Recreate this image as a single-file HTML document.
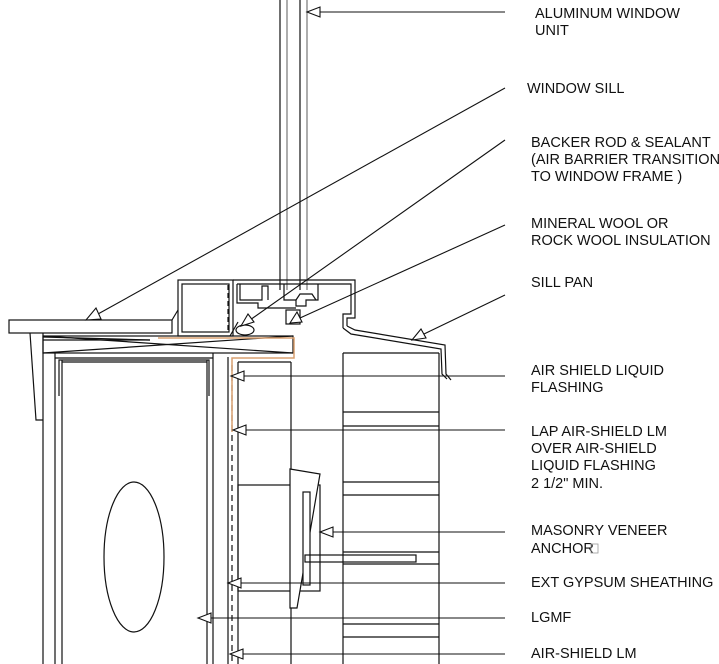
<!DOCTYPE html>
<html><head><style>
html,body{margin:0;padding:0;background:#fff;}
svg{display:block;}
text{font-family:"Liberation Sans",Arial,sans-serif;font-size:14.5px;fill:#111;}
</style></head><body>
<svg width="719" height="664" viewBox="0 0 719 664" xmlns="http://www.w3.org/2000/svg">
<g fill="none" stroke="#111" stroke-width="1.2">
<line x1="280" y1="0" x2="280" y2="290"/>
<line x1="287" y1="0" x2="287" y2="290" stroke="#777"/>
<line x1="300" y1="0" x2="300" y2="290"/>
<line x1="307" y1="0" x2="307" y2="290" stroke="#777"/>
<rect x="178" y="280" width="55" height="56"/>
<rect x="182" y="284" width="47" height="48"/>
<line x1="228" y1="285" x2="228" y2="332" stroke-dasharray="5,3"/>
<polyline points="233,280 355,280 355,318 347,318 347,326"/>
<polyline points="237,284 351,284 351,314 343,314 343,328"/>
<polyline points="237,284 237,303 258,303 258,308 296,308"/>
<polyline points="240,284 240,300 262,300 262,286 268,286 268,300"/>
<polyline points="284,284 284,300 296,300 296,306 306,306 306,300 318,300 318,284"/>
<rect x="286" y="310" width="14" height="14"/>
<polyline points="296,300 300,294 312,294 316,300"/>
<ellipse cx="245" cy="330" rx="9" ry="5"/>
<line x1="230" y1="336" x2="238" y2="322"/>
<polyline points="347,326 355,330 445,345 446,374 451,380"/>
<polyline points="343,328 351,334 441,349 442,374 447,379"/>
<rect x="9" y="320" width="163" height="13"/>
<line x1="172" y1="320" x2="178" y2="310"/>
<rect x="43" y="336" width="250" height="17"/>
<line x1="43" y1="340" x2="150" y2="340"/>
<line x1="43" y1="336" x2="293" y2="353"/>
<line x1="43" y1="353" x2="293" y2="336"/>
<line x1="43" y1="337" x2="150" y2="340"/>
<polyline points="30,333 36,420 43,420"/>
<line x1="43" y1="333" x2="43" y2="664"/>
<line x1="55" y1="353" x2="55" y2="664"/>
<line x1="62" y1="360" x2="62" y2="664"/>
<line x1="207" y1="360" x2="207" y2="664"/>
<line x1="213" y1="353" x2="213" y2="664"/>
<line x1="55" y1="358" x2="213" y2="358"/>
<line x1="62" y1="362" x2="207" y2="362"/>
<polyline points="59,396 59,360 209,360 209,396"/>
<ellipse cx="134" cy="557" rx="30" ry="75"/>
<line x1="228" y1="357" x2="228" y2="664"/>
<line x1="232" y1="365" x2="232" y2="664" stroke-dasharray="6,4"/>
<line x1="238" y1="362" x2="238" y2="664"/>
<line x1="238" y1="362" x2="291" y2="362"/>
<line x1="291" y1="362" x2="291" y2="664"/>
<rect x="238" y="485" width="82" height="106"/>
<polygon points="290,469 320,474 297,608 290,608" fill="#fff"/>
<rect x="303" y="492" width="7" height="93" fill="#fff"/>
<rect x="305" y="555" width="111" height="7"/>
<line x1="343" y1="353" x2="343" y2="664"/>
<line x1="439" y1="353" x2="439" y2="664"/>
<line x1="343" y1="353" x2="439" y2="353"/>
<line x1="343" y1="412" x2="439" y2="412"/><line x1="343" y1="426" x2="439" y2="426"/>
<line x1="343" y1="482" x2="439" y2="482"/><line x1="343" y1="495" x2="439" y2="495"/>
<line x1="343" y1="552" x2="439" y2="552"/><line x1="343" y1="564" x2="439" y2="564"/>
<line x1="343" y1="624" x2="439" y2="624"/><line x1="343" y1="637" x2="439" y2="637"/>
</g>
<polyline points="158,338 294,338 294,358 232,358 232,432" fill="none" stroke="#d9a070" stroke-width="1.5"/>
<g stroke="#111" stroke-width="1.1" fill="#fff">
<line x1="320" y1="12" x2="505" y2="12"/><polygon points="307,12 320,7 320,17"/>
<line x1="505" y1="88" x2="98" y2="314"/><polygon points="86,320 96,308 101,319"/>
<line x1="505" y1="140" x2="250" y2="320"/><polygon points="241,326 248,314 254,322"/>
<line x1="505" y1="225" x2="300" y2="318"/><polygon points="290,323 297,312 302,322"/>
<line x1="505" y1="295" x2="424" y2="334"/><polygon points="412,340 421,329 426,338"/>
<line x1="244" y1="376" x2="505" y2="376"/><polygon points="231,376 244,371 244,381"/>
<line x1="246" y1="430" x2="505" y2="430"/><polygon points="233,430 246,425 246,435"/>
<line x1="333" y1="532" x2="505" y2="532"/><polygon points="320,532 333,527 333,537"/>
<line x1="241" y1="583" x2="505" y2="583"/><polygon points="228,583 241,578 241,588"/>
<line x1="211" y1="618" x2="505" y2="618"/><polygon points="198,618 211,613 211,623"/>
<line x1="243" y1="654" x2="505" y2="654"/><polygon points="230,654 243,649 243,659"/>
</g>
<text x="535" y="18">ALUMINUM WINDOW</text>
<text x="535" y="35">UNIT</text>
<text x="527" y="93">WINDOW SILL</text>
<text x="531" y="147">BACKER ROD &amp; SEALANT</text>
<text x="531" y="164">(AIR BARRIER TRANSITION</text>
<text x="531" y="181">TO WINDOW FRAME )</text>
<text x="531" y="228">MINERAL WOOL OR</text>
<text x="531" y="245">ROCK WOOL INSULATION</text>
<text x="531" y="287">SILL PAN</text>
<text x="531" y="375">AIR SHIELD LIQUID</text>
<text x="531" y="392">FLASHING</text>
<text x="531" y="436">LAP AIR-SHIELD LM</text>
<text x="531" y="453">OVER AIR-SHIELD</text>
<text x="531" y="470">LIQUID FLASHING</text>
<text x="531" y="488">2 1/2" MIN.</text>
<text x="531" y="535">MASONRY VENEER</text>
<text x="531" y="553">ANCHOR</text>
<rect x="591" y="544" width="7" height="9" fill="none" stroke="#999" stroke-width="0.8"/>
<text x="531" y="587">EXT GYPSUM SHEATHING</text>
<text x="531" y="622">LGMF</text>
<text x="531" y="658">AIR-SHIELD LM</text>
</svg>
</body></html>
